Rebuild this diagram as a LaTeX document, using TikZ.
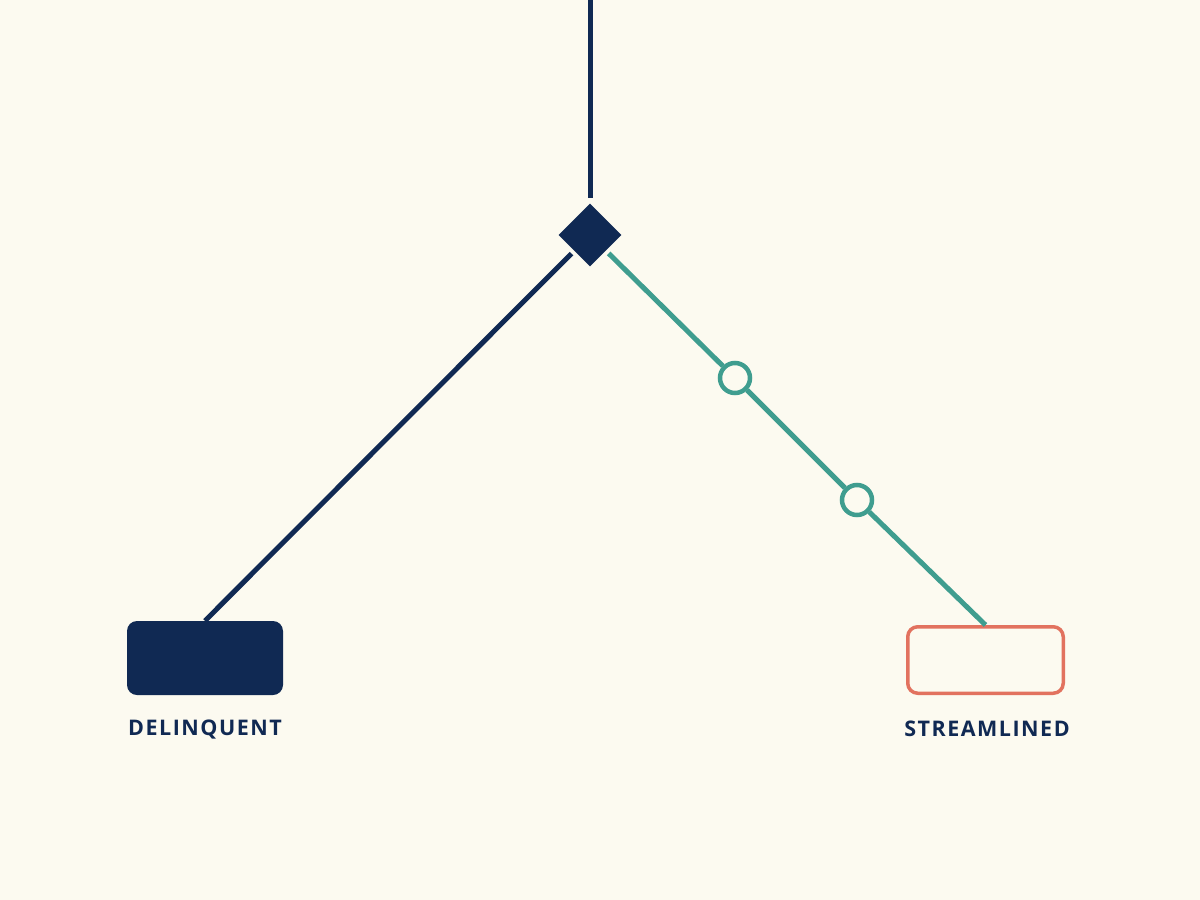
\documentclass[tikz,border=0pt]{standalone}
\usepackage{fontspec}
\setmainfont{Open Sans}
\newfontfamily\labelfont[LetterSpace=7]{Open Sans}
\usetikzlibrary{shapes.geometric}
\definecolor{cream}{HTML}{FCFAF0}
\definecolor{navy}{HTML}{102953}
\definecolor{teal}{HTML}{3F9D8F}
\definecolor{coral}{HTML}{E2725F}
\tikzset{
  navyline/.style={draw=navy, line width=5pt},
  tealline/.style={draw=teal, line width=5pt},
  junction/.style={diamond, fill=navy, draw=none, minimum size=66pt, inner sep=0pt, outer sep=4pt},
  stopc/.style={circle, draw=teal, fill=cream, line width=4.5pt, minimum size=30pt, inner sep=0pt},
  solidbox/.style={rectangle, rounded corners=10pt, fill=navy, minimum width=156pt, minimum height=74pt, inner sep=0pt},
  hollowbox/.style={rectangle, rounded corners=10pt, draw=coral, fill=cream, line width=3.5pt, minimum width=155.5pt, minimum height=66.5pt, inner sep=0pt},
  tag/.style={text=navy, font=\labelfont\bfseries\fontsize{21.5pt}{26pt}\selectfont, inner sep=0pt, anchor=base}
}
\begin{document}
\begin{tikzpicture}[x=1pt,y=-1pt]
\useasboundingbox[fill=cream] (0,0) rectangle (1200,900);
\coordinate (top) at (590,-5);
\node[junction] (dia) at (590,235) {};
\node[solidbox] (dbox) at (205,658) {};
\node[hollowbox] (sbox) at (985.5,660) {};
\node[stopc] (c1) at (735,378) {};
\node[stopc] (c2) at (857,500) {};
\node[tag] (dlab) at (205,735) {DELINQUENT};
\node[tag] (slab) at (987,736) {STREAMLINED};
\draw[navyline] (top) -- (dia);
\draw[navyline] (dia) -- (dbox.north);
\draw[tealline] (dia) -- (c1);
\draw[tealline] (c1) -- (c2);
\draw[tealline] (c2) -- (sbox.north);
\end{tikzpicture}
\end{document}
